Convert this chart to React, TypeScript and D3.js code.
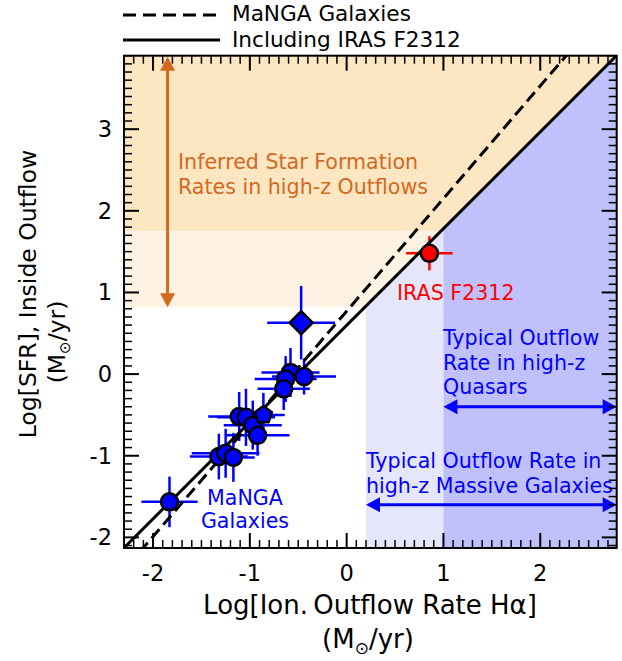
import React from 'react';
import * as d3 from 'd3';

const W = 622, H = 661;
const xDomain = [-2.3, 2.79];
const yDomain = [-2.13, 3.9];
const xTicks = [-2, -1, 0, 1, 2];
const yTicks = [-2, -1, 0, 1, 2, 3];

// MaNGA galaxies (circles)
const mangaX = [-1.83, -1.32, -1.25, -1.17, -1.11, -1.04, -0.97, -0.92, -0.58, -0.63, -0.65, -0.44];
const mangaY = [-1.565, -1.01, -0.97, -1.02, -0.52, -0.53, -0.625, -0.75, 0.02, -0.06, -0.18, -0.03];
const mangaXErr = [0.29, 0.3, 0.35, 0.22, 0.32, 0.3, 0.3, 0.33, 0.3, 0.32, 0.27, 0.33];
const mangaYErr = [0.31, 0.28, 0.3, 0.3, 0.3, 0.35, 0.3, 0.25, 0.3, 0.28, 0.26, 0.22];
// pentagon
const pentX = [-0.86];
const pentY = [-0.5];
const pentXErr = [0.22];
const pentYErr = [0.27];
// diamond
const diamX = [-0.47];
const diamY = [0.63];
const diamXErr = [0.35];
const diamYErr = [0.45];
// IRAS F2312
const irasX = [0.855];
const irasY = [1.48];
const irasXErr = [0.24];
const irasYErr = [0.21];

// fits
const fitNames = ['MaNGA Galaxies', 'Including IRAS F2312'];
const fitSlope = [1.38, 1.185];
const fitIntercept = [0.77, 0.597];

// shaded bands
const sfrBandLow = [0.82, 1.75];
const outflowLow = [0.2, 1.0];

const FONT = 'DejaVu Sans, sans-serif';

export default function App() {
  const L = 124, R = 616.7, T = 55.7, B = 548;
  const x = d3.scaleLinear().domain(xDomain).range([L, R]);
  const y = d3.scaleLinear().domain(yDomain).range([B, T]);
  const solid = (v: number) => fitSlope[1] * v + fitIntercept[1];

  const xMinor = d3.range(-23, 28).map((i) => i / 10).filter((v) => Math.abs(v - Math.round(v)) > 1e-6);
  const yMinor = d3.range(-21, 40).map((i) => i / 10).filter((v) => Math.abs(v - Math.round(v)) > 1e-6);

  const blue = '#0000FF';
  const orange = '#D2691E';
  const annFs = 20.6;

  const hArrow = (x1: number, x2: number, yy: number, color: string, key: string) => {
    const hl = 14, hw = 7.5;
    return (
      <g key={key}>
        <line x1={x1 + hl - 2} x2={x2 - hl + 2} y1={yy} y2={yy} stroke={color} strokeWidth={3} />
        <path d={`M${x1},${yy}L${x1 + hl},${yy - hw}L${x1 + hl},${yy + hw}Z`} fill={color} />
        <path d={`M${x2},${yy}L${x2 - hl},${yy - hw}L${x2 - hl},${yy + hw}Z`} fill={color} />
      </g>
    );
  };
  const vArrow = (xx: number, y1: number, y2: number, color: string) => {
    const hl = 14, hw = 7.5;
    return (
      <g>
        <line x1={xx} x2={xx} y1={y1 + hl - 2} y2={y2 - hl + 2} stroke={color} strokeWidth={3} />
        <path d={`M${xx},${y1}L${xx - hw},${y1 + hl}L${xx + hw},${y1 + hl}Z`} fill={color} />
        <path d={`M${xx},${y2}L${xx - hw},${y2 - hl}L${xx + hw},${y2 - hl}Z`} fill={color} />
      </g>
    );
  };

  const errBars = (xs: number[], ys: number[], xe: number[], ye: number[], color: string, k: string) =>
    xs.map((v, i) => (
      <g key={k + i} stroke={color} strokeWidth={2.5}>
        <line x1={x(v - xe[i])} x2={x(v + xe[i])} y1={y(ys[i])} y2={y(ys[i])} />
        <line x1={x(v)} x2={x(v)} y1={y(ys[i] - ye[i])} y2={y(ys[i] + ye[i])} />
      </g>
    ));

  const bluePoly = (a: number, b: number) =>
    [
      [x(a), y(yDomain[0])],
      [x(b), y(yDomain[0])],
      [x(b), y(solid(b))],
      [x(a), y(solid(a))],
    ]
      .map((p) => p.join(','))
      .join(' ');

  const pentPath = (cx: number, cy: number, r: number) =>
    d3.range(5).map((i) => {
      const a = -Math.PI / 2 + (i * 2 * Math.PI) / 5;
      return `${cx + r * Math.cos(a)},${cy + r * Math.sin(a)}`;
    }).join(' ');

  return (
    <svg width={W} height={H} style={{ position: 'absolute', left: 0, top: 0, background: '#fff' }} fontFamily={FONT}>
      <defs>
        <clipPath id="plotclip">
          <rect x={L} y={T} width={R - L} height={B - T} />
        </clipPath>
      </defs>
      <g clipPath="url(#plotclip)">
        <rect x={L} y={y(yDomain[1])} width={R - L} height={y(sfrBandLow[1]) - y(yDomain[1])} fill="#FDE6C2" />
        <rect x={L} y={y(sfrBandLow[1])} width={R - L} height={y(sfrBandLow[0]) - y(sfrBandLow[1])} fill="#FEF3E3" />
        <polygon points={bluePoly(outflowLow[0], outflowLow[1])} fill="#E6E6FB" />
        <polygon points={bluePoly(outflowLow[1], xDomain[1] + 0.1)} fill="#C0C0FC" />

        {errBars(mangaX, mangaY, mangaXErr, mangaYErr, blue, 'm')}
        {errBars(pentX, pentY, pentXErr, pentYErr, blue, 'p')}
        {errBars(diamX, diamY, diamXErr, diamYErr, blue, 'd')}
        {errBars(irasX, irasY, irasXErr, irasYErr, '#FF0000', 'i')}

        {fitNames.map((n, i) => (
          <line
            key={n}
            x1={x(xDomain[0] - 0.2)}
            x2={x(xDomain[1] + 0.2)}
            y1={y(fitSlope[i] * (xDomain[0] - 0.2) + fitIntercept[i])}
            y2={y(fitSlope[i] * (xDomain[1] + 0.2) + fitIntercept[i])}
            stroke="#000"
            strokeWidth={3}
            strokeDasharray={i === 0 ? '12,6' : undefined}
          />
        ))}

        {mangaX.map((v, i) => (
          <circle key={'c' + i} cx={x(v)} cy={y(mangaY[i])} r={8.5} fill={blue} stroke="#000" strokeWidth={2.5} />
        ))}
        {pentX.map((v, i) => (
          <polygon key={'pp' + i} points={pentPath(x(v), y(pentY[i]), 9)} fill={blue} stroke="#000" strokeWidth={2.5} strokeLinejoin="round" />
        ))}
        {diamX.map((v, i) => {
          const cx = x(v), cy = y(diamY[i]), r = 11.5;
          return (
            <polygon key={'dd' + i} points={`${cx},${cy - r} ${cx + r},${cy} ${cx},${cy + r} ${cx - r},${cy}`} fill={blue} stroke="#000" strokeWidth={2.5} />
          );
        })}
        {irasX.map((v, i) => (
          <circle key={'ir' + i} cx={x(v)} cy={y(irasY[i])} r={8.5} fill="#FF0000" stroke="#000" strokeWidth={2.5} />
        ))}

        {vArrow(x(-1.85), T + 1, y(sfrBandLow[0]), orange)}
        {hArrow(x(outflowLow[1]), R, y(-0.4), blue, 'a1')}
        {hArrow(x(outflowLow[0]), R, y(-1.6), blue, 'a2')}
      </g>

      {/* annotations */}
      <text fontSize={annFs} fill={orange}>
        <tspan x={178} y={169}>Inferred Star Formation</tspan>
        <tspan x={178} y={194}>Rates in high-z Outflows</tspan>
      </text>
      <text x={397} y={300} fontSize={annFs} fill="#FF0000">IRAS F2312</text>
      <text fontSize={annFs} fill={blue}>
        <tspan x={443} y={345}>Typical Outflow</tspan>
        <tspan x={443} y={370}>Rate in high-z</tspan>
        <tspan x={443} y={394}>Quasars</tspan>
      </text>
      <text fontSize={annFs} fill={blue}>
        <tspan x={366} y={468}>Typical Outflow Rate in</tspan>
        <tspan x={366} y={493}>high-z Massive Galaxies</tspan>
      </text>
      <text fontSize={annFs} fill={blue} textAnchor="middle">
        <tspan x={245} y={505}>MaNGA</tspan>
        <tspan x={245} y={528}>Galaxies</tspan>
      </text>

      {/* ticks */}
      <g stroke="#000">
        {xTicks.map((t) => (
          <g key={'xt' + t} strokeWidth={2}>
            <line x1={x(t)} x2={x(t)} y1={B} y2={B - 15} />
            <line x1={x(t)} x2={x(t)} y1={T} y2={T + 15} />
          </g>
        ))}
        {xMinor.map((t) => (
          <g key={'xm' + t} strokeWidth={1.5}>
            <line x1={x(t)} x2={x(t)} y1={B} y2={B - 8} />
            <line x1={x(t)} x2={x(t)} y1={T} y2={T + 8} />
          </g>
        ))}
        {yTicks.map((t) => (
          <g key={'yt' + t} strokeWidth={2}>
            <line x1={L} x2={L + 15} y1={y(t)} y2={y(t)} />
            <line x1={R} x2={R - 15} y1={y(t)} y2={y(t)} />
          </g>
        ))}
        {yMinor.map((t) => (
          <g key={'ym' + t} strokeWidth={1.5}>
            <line x1={L} x2={L + 8} y1={y(t)} y2={y(t)} />
            <line x1={R} x2={R - 8} y1={y(t)} y2={y(t)} />
          </g>
        ))}
      </g>
      <rect x={L} y={T} width={R - L} height={B - T} fill="none" stroke="#000" strokeWidth={2} />

      {/* tick labels */}
      {xTicks.map((t) => (
        <text key={'xl' + t} x={x(t)} y={581} fontSize={22.5} textAnchor="middle">{t}</text>
      ))}
      {yTicks.map((t) => (
        <text key={'yl' + t} x={112} y={y(t) + 8} fontSize={22.5} textAnchor="end">{t}</text>
      ))}

      {/* axis labels */}
      <text x={370} y={614} fontSize={26} textAnchor="middle">Log[Ion.&#8201;Outflow Rate Hα]</text>
      <text x={368} y={648} fontSize={26} textAnchor="middle">
        (M<tspan fontSize={17} dy={6}>⊙</tspan><tspan dy={-6}>/yr)</tspan>
      </text>
      <text transform="translate(36,294) rotate(-90)" fontSize={23.5} textAnchor="middle">Log[SFR], Inside Outflow</text>
      <text transform="translate(65,342) rotate(-90)" fontSize={23.5} textAnchor="middle">
        (M<tspan fontSize={15} dy={5}>⊙</tspan><tspan dy={-5}>/yr)</tspan>
      </text>

      {/* legend */}
      <line x1={123} x2={220} y1={15} y2={15} stroke="#000" strokeWidth={3} strokeDasharray="13,7" />
      <text x={232} y={21} fontSize={21.6}>{fitNames[0]}</text>
      <line x1={123} x2={220} y1={40} y2={40} stroke="#000" strokeWidth={3} />
      <text x={232} y={47} fontSize={21.6}>{fitNames[1]}</text>
    </svg>
  );
}
